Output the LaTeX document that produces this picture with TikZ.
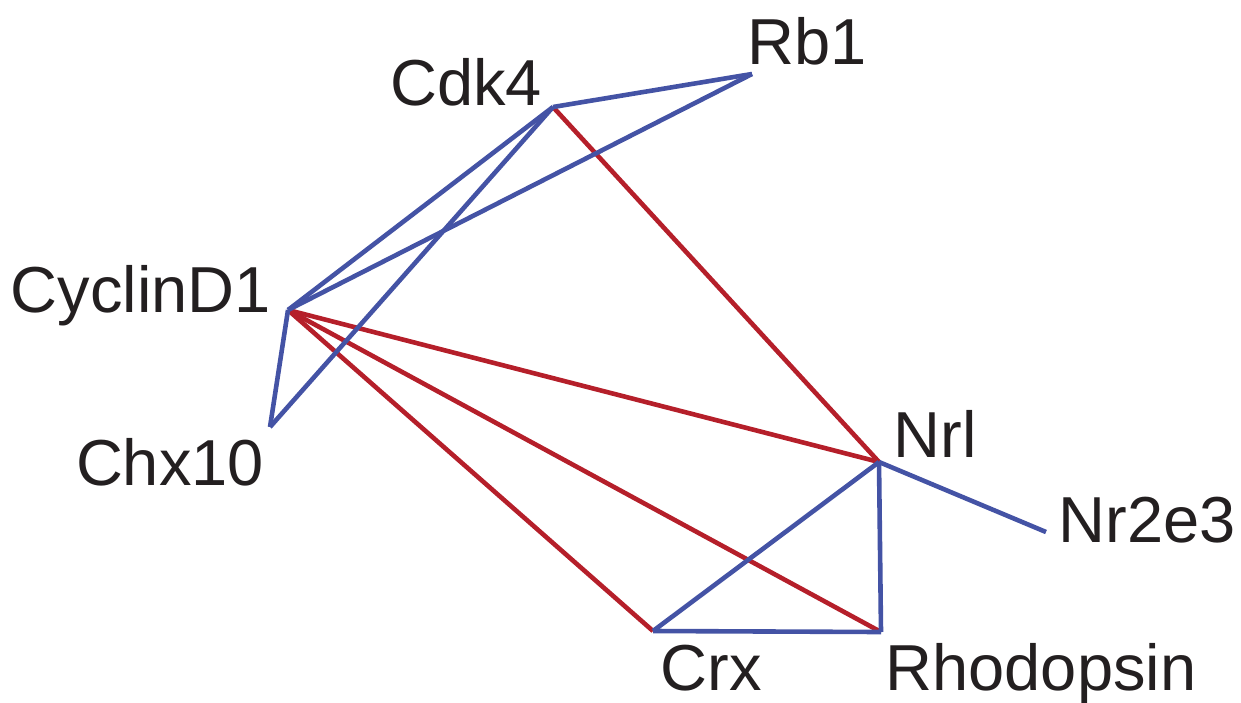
\documentclass[tikz,border=0pt]{standalone}
\usepackage{fontspec}
\setmainfont{Liberation Sans}
\definecolor{eblue}{HTML}{4453A5}
\definecolor{ered}{HTML}{B51F2A}
\definecolor{txt}{HTML}{231F20}
\begin{document}
\begin{tikzpicture}[x=0.5pt,y=-0.5pt,
  lbl/.style={anchor=base,inner sep=0pt,text=txt,font=\fontsize{32.5}{36}\selectfont},
  posedge/.style={draw=eblue,line width=2.3pt},
  negedge/.style={draw=ered,line width=2.3pt}]
\useasboundingbox (0,0) rectangle (1241,702);
\coordinate (cdk4) at (553,107);
\coordinate (rb1) at (752,74);
\coordinate (cyc) at (288,310);
\coordinate (chx) at (270,427);
\coordinate (nrl) at (879,462);
\coordinate (nr2) at (1046,532);
\coordinate (crx) at (653,631);
\coordinate (rho) at (881,632);
% red edges
\draw[negedge] (cdk4) -- (nrl);
\draw[negedge] (cyc) -- (nrl);
\draw[negedge] (cyc) -- (crx);
\draw[negedge] (cyc) -- (rho);
% blue edges
\draw[posedge] (cdk4) -- (rb1);
\draw[posedge] (rb1) -- (cyc);
\draw[posedge] (cdk4) -- (cyc);
\draw[posedge] (cdk4) -- (chx);
\draw[posedge] (cyc) -- (chx);
\draw[posedge] (nrl) -- (nr2);
\draw[posedge] (nrl) -- (crx);
\draw[posedge] (nrl) -- (rho);
\draw[posedge] (crx) -- (rho);
% labels
\node[lbl] (lcdk4) at (466,105) {Cdk4};
\node[lbl] (lrb1) at (807,64) {Rb1};
\node[lbl] (lcyc) at (141,312) {CyclinD1};
\node[lbl] (lchx) at (170,485) {Chx10};
\node[lbl] (lnrl) at (935,457) {Nrl};
\node[lbl] (lnr2) at (1147,542) {Nr2e3};
\node[lbl] (lcrx) at (711,690) {Crx};
\node[lbl] (lrho) at (1041,690) {Rhodopsin};
\end{tikzpicture}
\end{document}
